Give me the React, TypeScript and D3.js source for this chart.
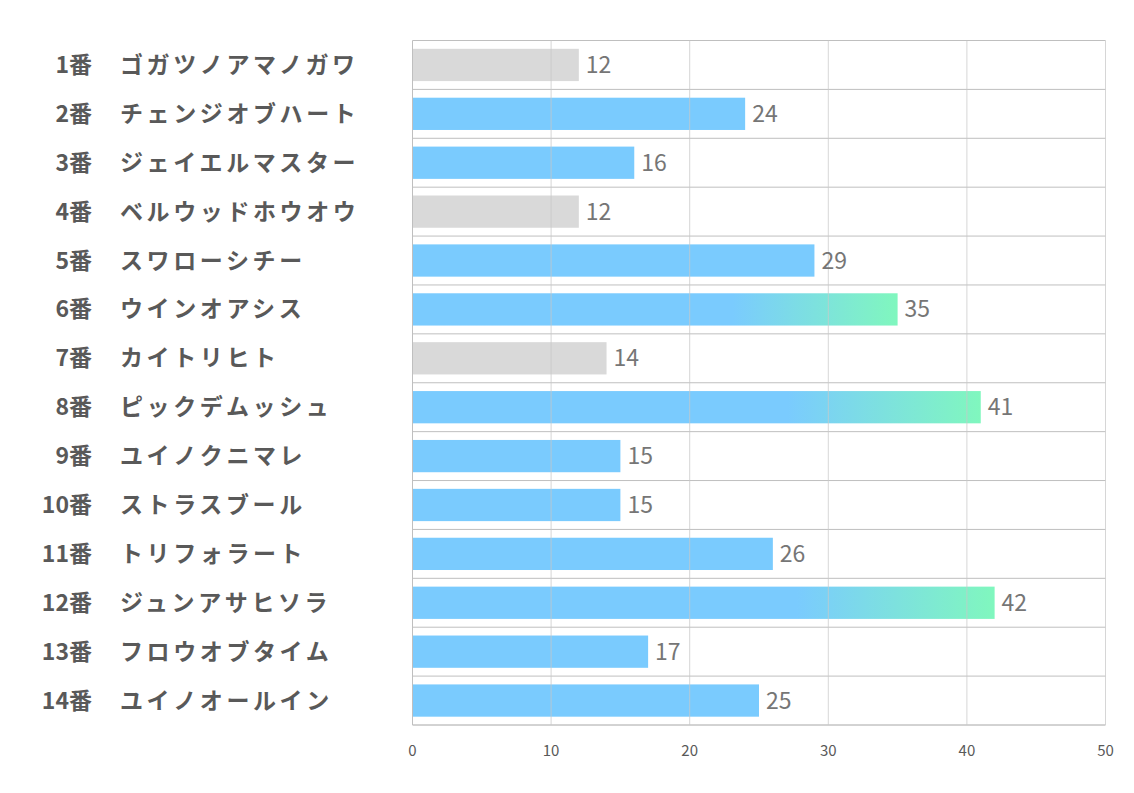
import React from "react";
import * as d3 from "d3";

const numbers = ["1番","2番","3番","4番","5番","6番","7番","8番","9番","10番","11番","12番","13番","14番"];
const names = ["ゴガツノアマノガワ","チェンジオブハート","ジェイエルマスター","ベルウッドホウオウ","スワローシチー","ウインオアシス","カイトリヒト","ピックデムッシュ","ユイノクニマレ","ストラスブール","トリフォラート","ジュンアサヒソラ","フロウオブタイム","ユイノオールイン"];
const values = [12,24,16,12,29,35,14,41,15,15,26,42,17,25];
const kinds = ["gray","blue","blue","gray","blue","grad","gray","grad","blue","blue","blue","grad","blue","blue"];
const ticks = [0,10,20,30,40,50];

export default function App() {
  const W = 1134, H = 793;
  const left = 412.5, right = 1105.5, top = 40.5, bottom = 725;
  const x = d3.scaleLinear().domain([0, 50]).range([left, right]);
  const y = d3.scaleBand<number>().domain(d3.range(14)).range([top, bottom]).paddingInner(0.34).paddingOuter(0.17);
  const step = y.step();
  const font = "'Noto Sans CJK JP', 'Noto Sans', sans-serif";
  const blue = "#7ACBFE";
  const gray = "#D9D9D9";
  return (
    <svg width={W} height={H} style={{ position: "absolute", left: 0, top: 0, background: "#fff" }}>
      <defs>
        <linearGradient id="g" x1="0" x2="1" y1="0" y2="0">
          <stop offset="0" stopColor={blue} />
          <stop offset="0.66" stopColor={blue} />
          <stop offset="1" stopColor="#80F7BE" />
        </linearGradient>
      </defs>
      {d3.range(15).map(i => (
        <line key={"h" + i} x1={left} x2={right} y1={top + i * step} y2={top + i * step} stroke={i === 14 ? "#A6A6A6" : "#BFBFBF"} strokeWidth={1} />
      ))}
      {values.map((v, i) => (
        <rect key={"b" + i} x={x(0)} y={y(i)} width={x(v) - x(0)} height={y.bandwidth()}
          fill={kinds[i] === "gray" ? gray : kinds[i] === "blue" ? blue : "url(#g)"} />
      ))}
      {ticks.map(t => (
        <line key={"v" + t} x1={x(t)} x2={x(t)} y1={top} y2={bottom} stroke={t === 0 ? "#BFBFBF" : "#C8C8C8"} strokeOpacity={t === 0 ? 1 : 0.75} strokeWidth={1} />
      ))}
      {ticks.map(t => (
        <text key={"t" + t} x={x(t)} y={756} textAnchor="middle" fontFamily={font} fontSize={15} fill="#595959">{t}</text>
      ))}
      {values.map((v, i) => (
        <text key={"l" + i} x={x(v) + 7} y={y(i)! + y.bandwidth() / 2 + 8} fontFamily={font} fontSize={23} fill="#767676">{v}</text>
      ))}
      {numbers.map((n, i) => (
        <text key={"n" + i} x={92} y={y(i)! + y.bandwidth() / 2 + 8} textAnchor="end" fontFamily={font} fontSize={23} fontWeight="bold" fill="#595959">{n}</text>
      ))}
      {names.map((n, i) => (
        <text key={"m" + i} x={120} y={y(i)! + y.bandwidth() / 2 + 8} fontFamily={font} fontSize={23} fontWeight="bold" letterSpacing={3.6} fill="#595959">{n}</text>
      ))}
    </svg>
  );
}
